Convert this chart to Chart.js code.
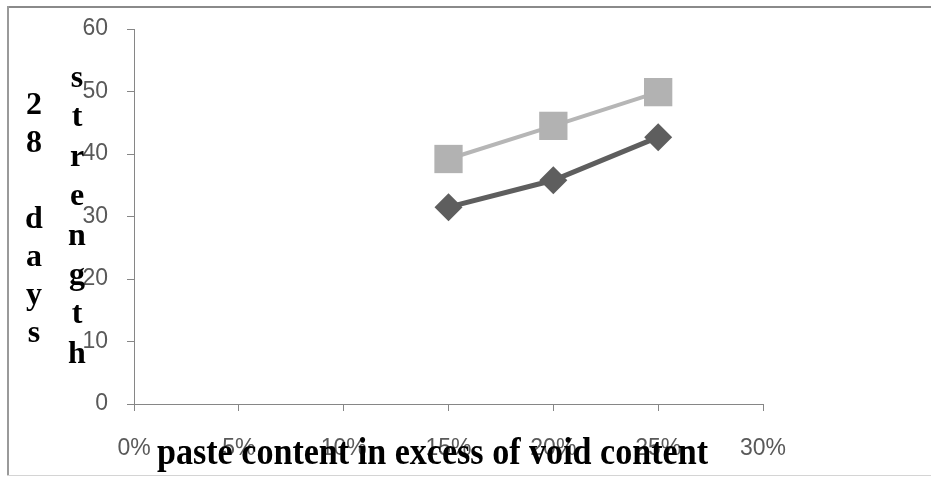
<!DOCTYPE html>
<html>
<head>
<meta charset="utf-8">
<script src="https://cdn.jsdelivr.net/npm/chart.js@4/dist/chart.umd.min.js"></script>
<style>
  html, body { margin: 0; padding: 0; background: #fff; }
  #wrap { width: 931px; height: 477px; position: relative; }
</style>
</head>
<body>
<div id="wrap"><canvas id="grafico" width="931" height="477"></canvas></div>
<script>
// values
var contenido = [0.15, 0.20, 0.25];          // paste content in excess of void content
var serieCuadros = [39.2, 44.5, 49.9];       // light grey squares
var serieRombos = [31.5, 35.8, 42.7];        // dark grey diamonds
var tituloX = 'paste content in excess of void content';
var tituloY1 = '28 days';
var tituloY2 = 'strength';

function puntos(xs, ys) {
    return xs.map(function (x, i) { return { x: x, y: ys[i] }; });
}

var titulos = {
    id: 'titulos',
    beforeDraw: function (chart) {
        var c = chart.ctx;
        c.save();
        c.fillStyle = '#fff';
        c.fillRect(0, 0, chart.width, chart.height);
        // frame
        c.fillStyle = '#8a8a8a';
        c.fillRect(7, 6, chart.width - 7, 2);
        c.fillStyle = '#9a9a9a';
        c.fillRect(7, 6, 2, 470);
        c.fillStyle = '#d4d4d4';
        c.fillRect(7, 475, chart.width - 7, 1);
        c.restore();
    },
    afterDraw: function (chart) {
        var c = chart.ctx;
        c.save();
        c.fillStyle = '#000';
        c.textAlign = 'center';
        c.textBaseline = 'alphabetic';
        c.font = 'bold 32px "Liberation Serif", "DejaVu Serif", serif';
        tituloY1.split('').forEach(function (ch, i) {
            c.fillText(ch, 34, 114 + 38 * i);
        });
        tituloY2.split('').forEach(function (ch, i) {
            c.fillText(ch, 77, 87 + 39.4 * i);
        });
        // condensed bold title under the x axis
        c.font = 'bold 38px "Liberation Serif", "DejaVu Serif", serif';
        c.textAlign = 'left';
        var ancho = c.measureText(tituloX).width;
        c.translate(157, 464);
        c.scale(551 / ancho, 1);
        c.fillText(tituloX, 0, 0);
        c.restore();
    }
};

var ctx = document.getElementById('grafico').getContext('2d');
var grafico = new Chart(ctx, {
    type: 'scatter',
    data: {
        datasets: [{
            label: 'squares',
            data: puntos(contenido, serieCuadros),
            showLine: true,
            borderColor: '#b6b6b6',
            backgroundColor: '#b2b2b2',
            borderWidth: 4,
            pointStyle: 'rect',
            pointRadius: 20,
            pointBorderWidth: 0,
            pointHoverRadius: 20
        }, {
            label: 'diamonds',
            data: puntos(contenido, serieRombos),
            showLine: true,
            borderColor: '#5e5e5e',
            backgroundColor: '#5e5e5e',
            borderWidth: 5,
            pointStyle: 'rectRot',
            pointRadius: 14,
            pointBorderWidth: 0,
            pointHoverRadius: 14
        }]
    },
    options: {
        responsive: false,
        animation: false,
        events: [],
        layout: { padding: { left: 0, top: 29, right: 168, bottom: 0 } },
        plugins: {
            legend: { display: false },
            tooltip: { enabled: false }
        },
        scales: {
            x: {
                type: 'linear',
                min: 0,
                max: 0.3,
                afterFit: function (s) {
                    s.height = 73;
                    s.paddingLeft = 0;
                    s.paddingRight = 0;
                },
                border: { color: '#868686', width: 1 },
                grid: { drawOnChartArea: false, drawTicks: true, tickLength: 7, color: '#868686' },
                ticks: {
                    stepSize: 0.05,
                    padding: 24,
                    color: '#595959',
                    font: { family: '"Liberation Sans", Arial, sans-serif', size: 23 },
                    maxRotation: 0,
                    callback: function (v) { return Math.round(v * 100) + '%'; }
                }
            },
            y: {
                min: 0,
                max: 60,
                afterFit: function (s) {
                    s.width = 134;
                    s.paddingTop = 0;
                    s.paddingBottom = 0;
                },
                border: { color: '#868686', width: 1 },
                grid: { drawOnChartArea: false, drawTicks: true, tickLength: 7, color: '#868686' },
                ticks: {
                    stepSize: 10,
                    padding: 19,
                    color: '#595959',
                    font: { family: '"Liberation Sans", Arial, sans-serif', size: 23 }
                }
            }
        }
    },
    plugins: [titulos]
});
</script>
</body>
</html>
